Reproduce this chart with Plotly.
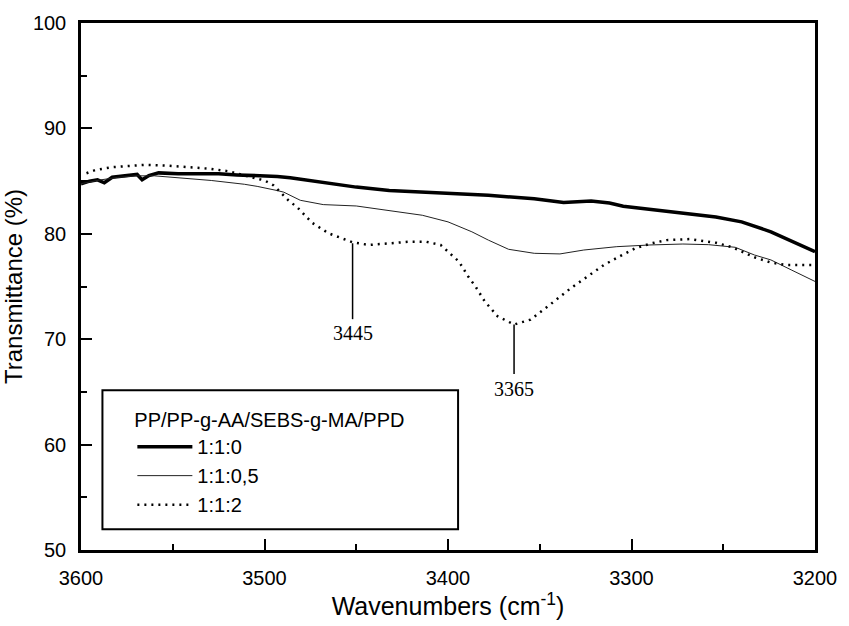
import plotly.graph_objects as go

# ---- data ----
wn_110 = [3600, 3595.4, 3591, 3587.3, 3583, 3572, 3569.4, 3566.7, 3563, 3557.7, 3547, 3536,
          3525, 3515, 3504, 3493, 3486, 3468, 3450, 3432, 3414, 3396, 3378, 3353, 3337,
          3322, 3312, 3304.5, 3290, 3272, 3254, 3240, 3224, 3200]
t_110 = [84.73, 84.99, 85.12, 84.84, 85.37, 85.53, 85.63, 85.12, 85.53, 85.78, 85.69, 85.69,
         85.69, 85.59, 85.53, 85.44, 85.31, 84.90, 84.43, 84.12, 83.96, 83.87, 83.65, 83.33, 82.96,
         83.11, 82.92, 82.61, 82.30, 81.92, 81.60, 81.13, 80.19, 78.30]

wn_1105 = [3600, 3590, 3580, 3570, 3560, 3547, 3529, 3511, 3504, 3493, 3489.5, 3480.5, 3468,
           3450, 3432, 3414, 3400, 3387, 3378, 3367, 3353, 3339, 3326, 3308, 3290, 3272,
           3258, 3243.5, 3233, 3224, 3213, 3200]
t_1105 = [84.75, 85.10, 85.35, 85.50, 85.50, 85.31, 85.06, 84.70, 84.50, 84.10, 83.95, 83.18, 82.77,
          82.64, 82.23, 81.76, 81.13, 80.19, 79.40, 78.53, 78.15, 78.09, 78.46, 78.78, 78.94, 79.03,
          78.97, 78.72, 77.99, 77.52, 76.58, 75.48]

wn_112 = [3597, 3592, 3583, 3565, 3554, 3538, 3529, 3520, 3510, 3500, 3495, 3487, 3482, 3474,
          3465, 3456, 3452, 3443, 3432, 3421, 3412, 3404, 3399, 3394, 3389, 3385, 3380, 3373,
          3364, 3355, 3345, 3333, 3324, 3315, 3306, 3298, 3289, 3281, 3268, 3254, 3245, 3233,
          3224, 3216, 3200]
t_112 = [85.75, 86.06, 86.32, 86.54, 86.48, 86.32, 86.16, 85.94, 85.50, 85.06, 84.59, 83.18, 82.49, 81.04,
         80.04, 79.40, 79.19, 78.94, 79.10, 79.25, 79.25, 78.94, 78.15, 77.36, 75.95, 75.00, 73.59, 72.18,
         71.39, 71.86, 73.20, 74.85, 75.95, 77.05, 77.90, 78.62, 79.10, 79.40, 79.50, 79.15, 78.72, 77.77,
         77.27, 77.05, 77.05]

series_names = ["1:1:0", "1:1:0,5", "1:1:2"]
legend_title = "PP/PP-g-AA/SEBS-g-MA/PPD"

peak_labels = ["3445", "3365"]
peak_x = [3452, 3364]
peak_top = [79.1, 71.4]
peak_bottom = [71.9, 66.7]
peak_label_y = [70.6, 65.25]

x_ticks = [3600, 3500, 3400, 3300, 3200]
y_ticks = [50, 60, 70, 80, 90, 100]

SANS = "Liberation Sans, Arial, Helvetica, sans-serif"
SERIF = "Liberation Serif, Times New Roman, serif"

fig = go.Figure()
fig.add_trace(go.Scatter(x=wn_110, y=t_110, mode="lines", name=series_names[0],
                         line=dict(color="black", width=3.5)))
fig.add_trace(go.Scatter(x=wn_1105, y=t_1105, mode="lines", name=series_names[1],
                         line=dict(color="#222222", width=1)))
fig.add_trace(go.Scatter(x=wn_112, y=t_112, mode="lines", name=series_names[2],
                         line=dict(color="black", width=2.5, dash="2px,5px")))

# peak marker lines and labels
for lab, px, yt, yb, ly in zip(peak_labels, peak_x, peak_top, peak_bottom, peak_label_y):
    fig.add_shape(type="line", xref="x", yref="y", x0=px, x1=px, y0=yt, y1=yb,
                  line=dict(color="black", width=1.5))
    fig.add_annotation(x=px, y=ly, xref="x", yref="y", text=lab, showarrow=False,
                       font=dict(family=SERIF, size=20, color="black"),
                       xanchor="center", yanchor="middle")

# legend frame
L, R, T, B = 81.0, 824.0, 21.0, 552.0
def px2paper_x(p):
    return (p - L) / (R - L)
def px2paper_y(p):
    return (B - p) / (B - T)

fig.add_shape(type="rect", xref="paper", yref="paper",
              x0=px2paper_x(102.7), x1=px2paper_x(462.7),
              y0=px2paper_y(531), y1=px2paper_y(391),
              line=dict(color="black", width=2), fillcolor="white", layer="below")

axis_common = dict(
    showgrid=False, zeroline=False, showline=True, mirror=True,
    linecolor="black", linewidth=2.5,
    ticks="inside", ticklen=11, tickwidth=2, tickcolor="black",
    tickfont=dict(family=SANS, size=20, color="black"),
)

fig.update_layout(
    width=849, height=626,
    margin=dict(l=81, r=25, t=21, b=74),
    paper_bgcolor="white", plot_bgcolor="white",
    xaxis=dict(range=[3600, 3200], tickvals=x_ticks,
               minor=dict(ticks="inside", ticklen=6, tickwidth=2, tickcolor="black", dtick=50),
               title=dict(text="Wavenumbers (cm<sup>-1</sup>)", font=dict(family=SANS, size=25, color="black"),
                          standoff=8),
               ticklabelstandoff=8,
               **axis_common),
    yaxis=dict(range=[50, 100], tickvals=y_ticks,
               minor=dict(ticks="inside", ticklen=6, tickwidth=2, tickcolor="black", dtick=5),
               title=dict(text="Transmittance (%)", font=dict(family=SANS, size=24, color="black"),
                          standoff=4),
               ticklabelstandoff=8,
               **axis_common),
    showlegend=True,
    legend=dict(x=px2paper_x(133), y=px2paper_y(402), xanchor="left", yanchor="top",
                bgcolor="rgba(0,0,0,0)", borderwidth=0,
                font=dict(family=SANS, size=20, color="black"),
                title=dict(text=legend_title, font=dict(family=SANS, size=20, color="black")),
                itemwidth=55, tracegroupgap=0),
)

fig.write_html("out.html", config={"displayModeBar": False},
               post_script="document.body.style.margin='0';document.body.style.overflow='hidden';")
